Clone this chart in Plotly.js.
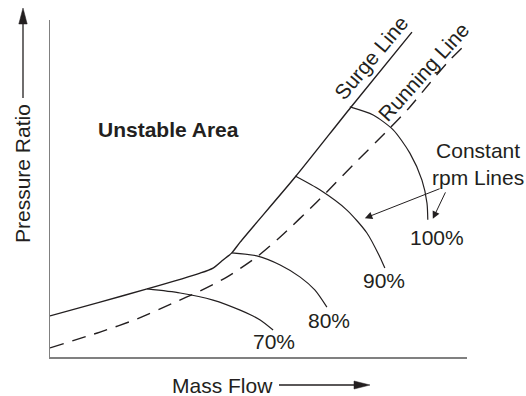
<!DOCTYPE html>
<html><head><meta charset="utf-8">
<script src="https://cdn.plot.ly/plotly-3.0.1.min.js"></script>
<style>html,body{margin:0;padding:0;background:#fff}#chart{width:526px;height:396px}</style>
</head><body><div id="chart"></div>
<script>
// Schematic compressor map in arbitrary units (0-100 on both axes)
const surgeX = [0, 12.0, 23.3, 36.0, 39.1, 41.5, 43.6, 45.6, 58.8, 72.2, 86.8];
const surgeY = [12.2, 16.3, 20.2, 24.9, 26.4, 28.8, 30.9, 34.1, 53.4, 74.2, 96.4];

const runX = [0, 12.0, 20.9, 29.5, 36.0, 42.4, 49.6, 55.2, 64.0, 72.7, 81.1, 86.3, 91.1, 95.4, 99.5];
const runY = [2.7, 7.4, 11.3, 16.0, 19.6, 23.7, 29.7, 35.6, 46.0, 57.0, 67.4, 74.2, 81.3, 87.5, 92.6];

const rpm70X = [23.3, 31.2, 39.1, 45.6, 50.4, 53.5];
const rpm70Y = [20.2, 19.0, 16.9, 13.9, 11.0, 8.0];
const rpm80X = [43.6, 49.6, 55.2, 60.0, 63.5, 66.4];
const rpm80Y = [30.9, 30.0, 27.3, 23.7, 19.9, 14.8];
const rpm90X = [58.8, 64.7, 71.2, 76.0, 79.1, 80.3];
const rpm90Y = [53.7, 49.6, 43.6, 36.8, 29.7, 26.4];
const rpm100X = [71.9, 77.5, 82.3, 86.3, 89.2, 90.4, 90.6];
const rpm100Y = [74.2, 71.8, 67.4, 60.5, 52.5, 45.7, 40.7];

const rpmLabels = ['70%', '80%', '90%', '100%'];
const xTitle = 'Mass Flow';
const yTitle = 'Pressure Ratio';

const INK = '#231f20';
const FONT = 'Liberation Sans, Arial, sans-serif';
const FS = 21;

function curve(x, y, dash, w) {
  return {x: x, y: y, mode: 'lines', type: 'scatter', hoverinfo: 'skip',
    line: {color: INK, width: w || 1.2, dash: dash || 'solid', shape: 'spline', smoothing: 0.7}};
}

const data = [
  curve(surgeX, surgeY, 'solid', 1.4),
  curve(runX, runY, '14px,9px', 1.4),
  curve(rpm70X, rpm70Y),
  curve(rpm80X, rpm80Y),
  curve(rpm90X, rpm90Y),
  curve(rpm100X, rpm100Y)
];

// pixel -> paper helpers (plot area: x 50..467, y 20..357)
const L = 50, R = 467, T = 20, B = 357;
const px = v => (v - L) / (R - L);
const py = v => (B - v) / (B - T);

function txt(x, y, text, extra) {
  return Object.assign({x: x, y: y, xref: 'x', yref: 'y', text: text, showarrow: false,
    xanchor: 'center', yanchor: 'middle',
    font: {family: FONT, size: FS, color: INK}}, extra || {});
}

const annotations = [
  txt(28.4, 67.4, '<b>Unstable Area</b>'),
  txt(77.0, 89.0, 'Surge Line', {textangle: -50}),
  txt(89.7, 84.6, 'Running Line', {textangle: -48}),
  txt(53.7, 4.7, rpmLabels[0]),
  txt(66.9, 10.7, rpmLabels[1]),
  txt(80.1, 22.6, rpmLabels[2]),
  txt(92.8, 35.6, rpmLabels[3]),
  txt(px(478), py(164), 'Constant<br>rpm Lines', {xref: 'paper', yref: 'paper'}),
  {x: 75.5, y: 41.2, ax: 93.8, ay: 50.1, xref: 'x', yref: 'y', axref: 'x', ayref: 'y', text: '',
   showarrow: true, arrowhead: 2, arrowsize: 1.5, arrowwidth: 1, arrowcolor: INK, standoff: 0},
  {x: 91.8, y: 41.0, ax: 95.0, ay: 49.3, xref: 'x', yref: 'y', axref: 'x', ayref: 'y', text: '',
   showarrow: true, arrowhead: 2, arrowsize: 1.5, arrowwidth: 1, arrowcolor: INK, standoff: 0},
  txt(px(22), py(174), yTitle, {xref: 'paper', yref: 'paper', textangle: -90}),
  txt(px(222), py(385), xTitle, {xref: 'paper', yref: 'paper'})
];

const shapes = [
  // y-direction arrow
  {type: 'line', xref: 'paper', yref: 'paper', x0: px(23), x1: px(23), y0: py(98), y1: py(22),
   line: {color: INK, width: 1.3}},
  {type: 'path', xref: 'paper', yref: 'paper',
   path: `M ${px(23)} ${py(8)} L ${px(18.8)} ${py(24)} L ${px(27.2)} ${py(24)} Z`,
   fillcolor: INK, line: {color: INK, width: 0.5}},
  // x-direction arrow
  {type: 'line', xref: 'paper', yref: 'paper', x0: px(279), x1: px(356), y0: py(385), y1: py(385),
   line: {color: INK, width: 1.3}},
  {type: 'path', xref: 'paper', yref: 'paper',
   path: `M ${px(370)} ${py(385)} L ${px(354)} ${py(381)} L ${px(354)} ${py(389)} Z`,
   fillcolor: INK, line: {color: INK, width: 0.5}}
];

const axis = {range: [0, 100], showline: true, linecolor: '#808080', linewidth: 1.5, mirror: false,
  showgrid: false, zeroline: false, showticklabels: false, ticks: '', fixedrange: true};

const layout = {
  width: 526, height: 396,
  margin: {l: L, r: 526 - R, t: T, b: 396 - B, pad: 0},
  paper_bgcolor: '#ffffff', plot_bgcolor: '#ffffff',
  showlegend: false,
  xaxis: Object.assign({}, axis),
  yaxis: Object.assign({}, axis),
  annotations: annotations,
  shapes: shapes
};

Plotly.newPlot('chart', data, layout, {displayModeBar: false, staticPlot: true});
</script>
</body></html>
